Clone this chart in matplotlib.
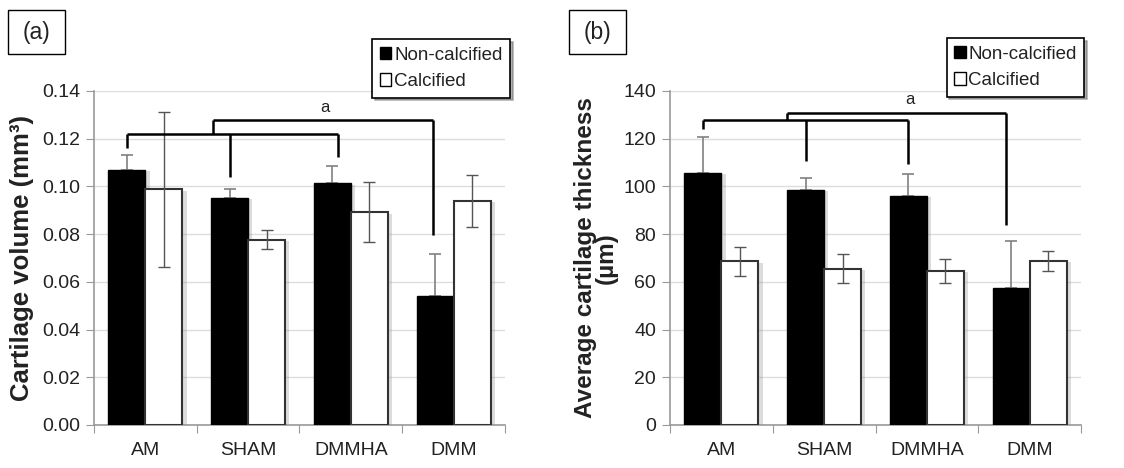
import numpy as np
import matplotlib
matplotlib.use('Agg')
import matplotlib.pyplot as plt
import matplotlib.patheffects as pe
from matplotlib.patches import Rectangle

plt.rcParams['font.family'] = ['Liberation Sans', 'DejaVu Sans']

# dados
grupos = ['AM', 'SHAM', 'DMMHA', 'DMM']
series = ['Non-calcified', 'Calcified']

vol_nc = [0.107, 0.0953, 0.1013, 0.0539]
vol_nc_err = [0.006, 0.0036, 0.0074, 0.0176]
vol_c = [0.0988, 0.0777, 0.0891, 0.0939]
vol_c_err = [0.0325, 0.0041, 0.0126, 0.0108]

esp_nc = [105.8, 98.5, 96.0, 57.5]
esp_nc_err = [14.8, 4.9, 9.1, 19.8]
esp_c = [68.6, 65.5, 64.7, 68.7]
esp_c_err = [6.1, 6.0, 5.0, 4.2]

# colchetes de significancia: (altura da barra horizontal, alturas das pernas)
vol_br1_y = 0.122
vol_br1_legs = [0.116, 0.104, 0.1123]
vol_br2_y = 0.128
vol_br2_leg = 0.0796

esp_br1_y = 127.8
esp_br1_legs = [124.0, 110.8, 109.4]
esp_br2_y = 130.6
esp_br2_leg = 83.8

fig = plt.figure(figsize=(11.24, 4.68), dpi=100)
ax1 = fig.add_axes([0.0836, 0.0919, 0.3657, 0.7137])
ax2 = fig.add_axes([0.5961, 0.0919, 0.3657, 0.7137])

x = np.arange(len(grupos))
w = 0.36
sombra = [pe.SimplePatchShadow(offset=(3, -1), shadow_rgbFace='0.55', alpha=0.3), pe.Normal()]


def desenha(ax, nc, nc_err, c, c_err, ymax, passo, fmt):
    b1 = ax.bar(x - w / 2, nc, w, color='black', edgecolor='black', label=series[0], zorder=3)
    b2 = ax.bar(x + w / 2, c, w, color='white', edgecolor='#333333', linewidth=1.5,
                label=series[1], zorder=3)
    for b in list(b1) + list(b2):
        b.set_path_effects(sombra)
    ax.errorbar(x - w / 2, nc, yerr=[np.zeros(len(nc)), nc_err], fmt='none',
                ecolor='#808080', elinewidth=1.2, capsize=4, capthick=1.2, zorder=2)
    ax.errorbar(x + w / 2, c, yerr=c_err, fmt='none', ecolor='#555555',
                elinewidth=1.0, capsize=4, capthick=1.0, zorder=4)

    ax.set_xlim(-0.5, len(grupos) - 0.5)
    ax.set_ylim(0, ymax)
    ax.set_yticks(np.arange(0, ymax + passo / 2, passo))
    ax.set_yticklabels([fmt.format(v) for v in np.arange(0, ymax + passo / 2, passo)])
    ax.set_xticks(np.arange(-0.5, len(grupos), 1.0))
    ax.set_xticklabels([])
    ax.set_xticks(x, minor=True)
    ax.set_xticklabels(grupos, minor=True)
    ax.tick_params(axis='x', which='minor', length=0, pad=12, labelsize=14, labelcolor='#222222')
    ax.tick_params(axis='x', which='major', length=6, color='#999999', direction='out')
    ax.tick_params(axis='y', length=6, color='#999999', labelsize=14, labelcolor='#222222', pad=4)
    ax.grid(axis='y', color='#dddddd', linewidth=1.0, zorder=0)
    ax.set_axisbelow(True)
    for s in ['top', 'right']:
        ax.spines[s].set_visible(False)
    for s in ['left', 'bottom']:
        ax.spines[s].set_color('#999999')
        ax.spines[s].set_linewidth(1.2)


def colchetes(ax, y1, legs, y2, leg2, x_dmmha, x_br2, x_dmm, txt_x, txt_y):
    kw = dict(color='black', lw=1.8, zorder=5, solid_capstyle='butt')
    xs = [x[0] - w / 2, x[1] - w / 2, x_dmmha]
    ax.plot([xs[0], xs[2]], [y1, y1], **kw)
    for xi, yl in zip(xs, legs):
        ax.plot([xi, xi], [y1, yl], **kw)
    ax.plot([x_br2, x_dmm], [y2, y2], **kw)
    ax.plot([x_br2, x_br2], [y1, y2], **kw)
    ax.plot([x_dmm, x_dmm], [y2, leg2], **kw)
    ax.text(txt_x, txt_y, 'a', ha='center', va='center', fontsize=12, color='#222222')


desenha(ax1, vol_nc, vol_nc_err, vol_c, vol_c_err, 0.14, 0.02, '{:.2f}')
desenha(ax2, esp_nc, esp_nc_err, esp_c, esp_c_err, 140, 20, '{:.0f}')

colchetes(ax1, vol_br1_y, vol_br1_legs, vol_br2_y, vol_br2_leg, 1.87, 0.66, 2.80, 1.75, 0.133)
colchetes(ax2, esp_br1_y, esp_br1_legs, esp_br2_y, esp_br2_leg, 1.82, 0.64, 2.77, 1.83, 136.5)

ax1.set_ylabel('Cartilage volume (mm³)', fontsize=18.5, fontweight='bold', color='#222222', labelpad=6)
ax2.set_ylabel('Average cartilage thickness\n(µm)', fontsize=17.5, fontweight='bold', color='#222222',
               labelpad=4, linespacing=0.9)

for ax, anc in [(ax1, (1.012, 1.155)), (ax2, (1.008, 1.158))]:
    leg = ax.legend(loc='upper right', bbox_to_anchor=anc, fontsize=13.5, frameon=True,
                    fancybox=False, shadow={'color': '0.4', 'alpha': 0.5},
                    handlelength=0.62, handleheight=0.62, handletextpad=0.15,
                    borderpad=0.4, labelspacing=0.5, borderaxespad=0)
    leg.get_frame().set_edgecolor('black')
    leg.get_frame().set_linewidth(1.2)
    for h in leg.legend_handles:
        h.set_edgecolor('black')
        h.set_linewidth(1.0)
        h.set_path_effects([])
    for t in leg.get_texts():
        t.set_color('#222222')

# rotulos dos paineis (a) e (b)
for lbl, x0 in [('(a)', 8), ('(b)', 569)]:
    fig.patches.append(Rectangle((x0 / 1124, 1 - 54 / 468), 57 / 1124, 44 / 468,
                                 transform=fig.transFigure, facecolor='white',
                                 edgecolor='black', linewidth=1.0))
    fig.text((x0 + 28.5) / 1124, 1 - 32 / 468, lbl, ha='center', va='center',
             fontsize=16.5, color='#222222')

plt.savefig('out.png', dpi=100)
